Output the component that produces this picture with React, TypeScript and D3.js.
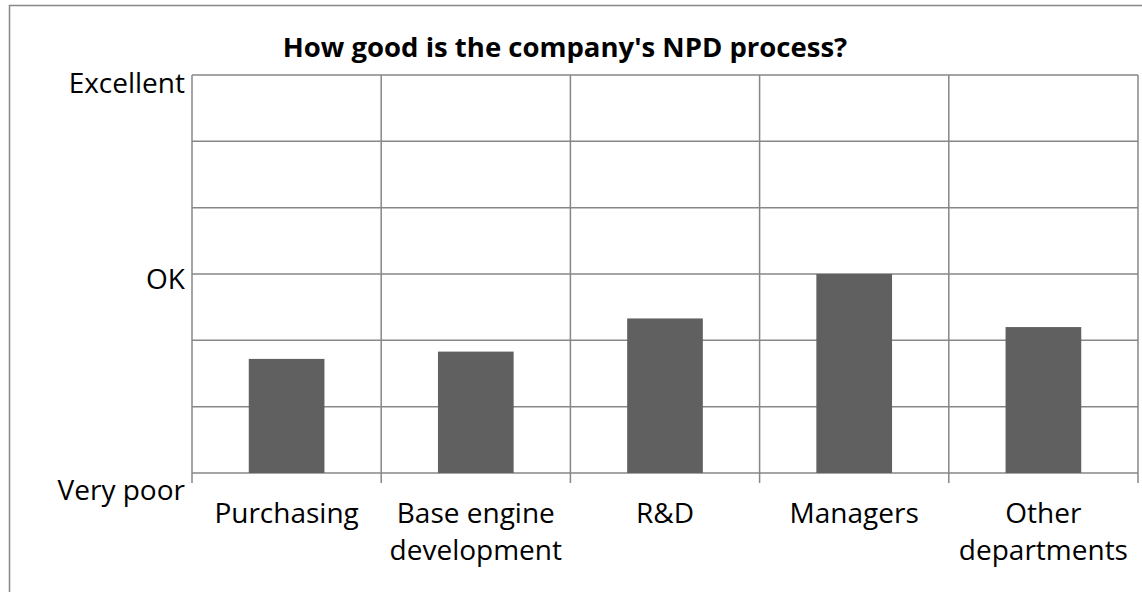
import React from "react";
import * as d3 from "d3";

const categories: string[][] = [
  ["Purchasing"],
  ["Base engine", "development"],
  ["R&D"],
  ["Managers"],
  ["Other", "departments"],
];
const values: number[] = [1.72, 1.83, 2.33, 3.0, 2.2];
const yTicks: number[] = [0, 1, 2, 3, 4, 5, 6];
const yLabels: { v: number; text: string; dy: number }[] = [
  { v: 6, text: "Excellent", dy: 18 },
  { v: 3, text: "OK", dy: 15 },
  { v: 0, text: "Very poor", dy: 27 },
];
const title = "How good is the company's NPD process?";

const W = 1142;
const H = 592;
const plot = { left: 192, right: 1138, top: 75, bottom: 473 };
const FONT = "'Open Sans', 'Noto Sans', sans-serif";
const GRID = "#878787";

export default function App() {
  const x = d3
    .scaleBand<number>()
    .domain(values.map((_, i) => i))
    .range([plot.left, plot.right])
    .paddingInner(0.6)
    .paddingOuter(0.3);
  const y = d3.scaleLinear().domain([0, 6]).range([plot.bottom, plot.top]);
  const step = x.step();
  const boundaries = d3.range(values.length + 1).map((i) => plot.left + i * step);

  return (
    <svg
      width={W}
      height={H}
      style={{ position: "absolute", left: 0, top: 0, background: "#fff" }}
    >
      <rect x={9.5} y={5.5} width={1300} height={800} fill="#fff" stroke={GRID} strokeWidth={1.5} />
      <text
        x={565}
        y={57}
        textAnchor="middle"
        fontFamily={FONT}
        fontWeight="bold"
        fontSize={27.5}
        fill="#000"
      >
        {title}
      </text>
      {yTicks.map((t) => (
        <line
          key={"h" + t}
          x1={plot.left}
          x2={plot.right}
          y1={y(t)}
          y2={y(t)}
          stroke={GRID}
          strokeWidth={1.5}
        />
      ))}
      {boundaries.map((bx, i) => (
        <line
          key={"v" + i}
          x1={bx}
          x2={bx}
          y1={plot.top}
          y2={plot.bottom + 10}
          stroke={GRID}
          strokeWidth={1.5}
        />
      ))}
      {values.map((v, i) => (
        <rect
          key={"b" + i}
          x={x(i)}
          y={y(v)}
          width={x.bandwidth()}
          height={y(0) - y(v)}
          fill="#606060"
        />
      ))}
      {yLabels.map((l) => (
        <text
          key={l.text}
          x={185}
          y={y(l.v) + l.dy}
          textAnchor="end"
          fontFamily={FONT}
          fontSize={28}
          fill="#000"
        >
          {l.text}
        </text>
      ))}
      {categories.map((lines, i) => (
        <text
          key={"c" + i}
          x={(x(i) as number) + x.bandwidth() / 2}
          y={523}
          textAnchor="middle"
          fontFamily={FONT}
          fontSize={28}
          fill="#000"
        >
          {lines.map((ln, j) => (
            <tspan key={j} x={(x(i) as number) + x.bandwidth() / 2} dy={j === 0 ? 0 : 37}>
              {ln}
            </tspan>
          ))}
        </text>
      ))}
    </svg>
  );
}
